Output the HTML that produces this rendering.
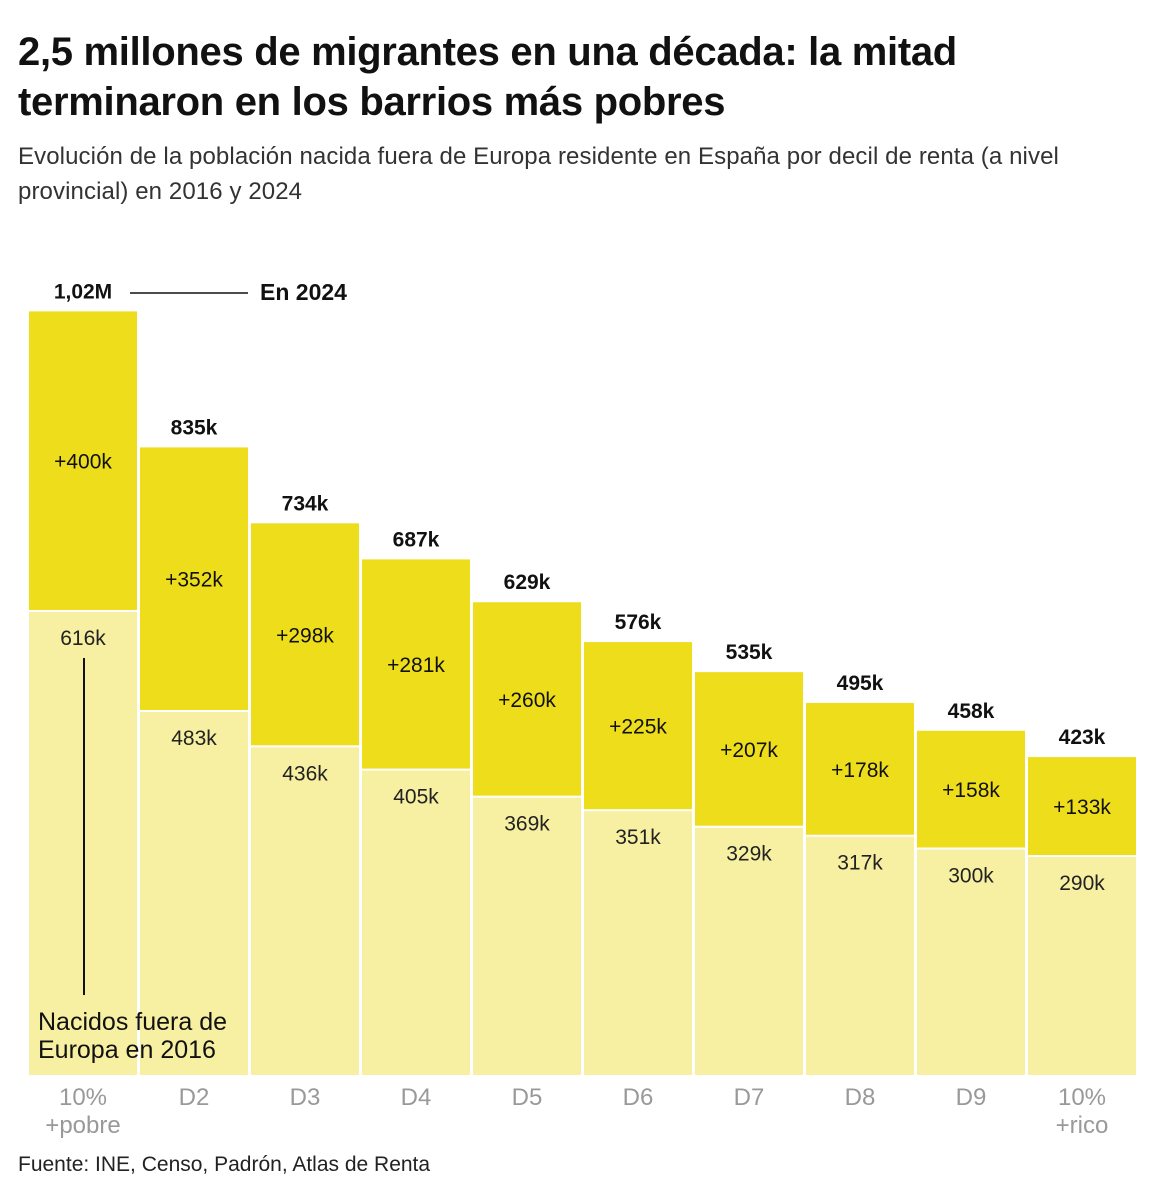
<!DOCTYPE html>
<html><head><meta charset="utf-8"><style>
body{margin:0;background:#fff;font-family:"Liberation Sans","DejaVu Sans",sans-serif;}
.t{position:absolute;left:18px;top:27px;font-size:40px;font-weight:bold;line-height:50px;color:#111;letter-spacing:-0.3px;}
.s{position:absolute;left:18px;top:139px;font-size:24px;line-height:35px;color:#333;letter-spacing:0.1px;}
.f{position:absolute;left:18px;top:1153px;font-size:21px;color:#222;}
</style></head><body>
<div class="t">2,5 millones de migrantes en una década: la mitad<br>terminaron en los barrios más pobres</div>
<div class="s">Evolución de la población nacida fuera de Europa residente en España por decil de renta (a nivel<br>provincial) en 2016 y 2024</div>
<svg id="chart" width="1164" height="1200" style="position:absolute;left:0;top:0"></svg>
<div class="f">Fuente: INE, Censo, Padrón, Atlas de Renta</div>
<script>
const categories=["10%|+pobre","D2","D3","D4","D5","D6","D7","D8","D9","10%|+rico"];
const base2016=[616,483,436,405,369,351,329,317,300,290];
const increase=[400,352,298,281,260,225,207,178,158,133];
const totalLabels=["1,02M","835k","734k","687k","629k","576k","535k","495k","458k","423k"];
const svg=document.getElementById('chart');
const NS='http://www.w3.org/2000/svg';
const baseY=1075, k=0.7516, x0=29, step=111, bw=108;
const xPos=i=>x0+i*step;
const yPos=v=>baseY-v*k;
function mk(tag,attrs,txt){const e=document.createElementNS(NS,tag);for(const a in attrs)e.setAttribute(a,attrs[a]);if(txt!==undefined)e.textContent=txt;svg.appendChild(e);return e;}
categories.forEach((c,i)=>{
  const x=xPos(i), b=base2016[i], t=b+increase[i];
  let r=mk('rect',{x:x,y:yPos(b),width:bw,height:baseY-yPos(b),fill:'#F7F0A2'});
  
  
  r=mk('rect',{x:x,y:yPos(t),width:bw,height:yPos(b)-yPos(t)-2,fill:'#EDDD1B'});
  
  
  let e=mk('text',{x:x+bw/2,y:yPos(t)-13,'text-anchor':'middle','font-size':21,'font-weight':'bold',fill:'#111'},totalLabels[i]);
  
  
  e=mk('text',{x:x+bw/2,y:(yPos(t)+yPos(b))/2+7,'text-anchor':'middle','font-size':21,fill:'#111'},'+'+increase[i]+'k');
  
  
  e=mk('text',{x:x+bw/2,y:yPos(b)+33,'text-anchor':'middle','font-size':21,fill:'#222'},b+'k');
  
  
  c.split('|').forEach((line,j)=>{
    e=mk('text',{x:x+bw/2,y:1105+j*28,'text-anchor':'middle','font-size':24,fill:'#999'},line);
    
    
  });
});
let a=mk('line',{x1:130,y1:293,x2:248,y2:293,stroke:'#111','stroke-width':1.5});


a=mk('text',{x:260,y:300,'font-size':23,'font-weight':'bold',fill:'#111'},'En 2024');


a=mk('line',{x1:84,y1:658,x2:84,y2:995,stroke:'#111','stroke-width':2});


['Nacidos fuera de','Europa en 2016'].forEach((l,j)=>{
  a=mk('text',{x:38,y:1030+j*28,'font-size':25,fill:'#111'},l);
  
  
});
</script>
</body></html>
